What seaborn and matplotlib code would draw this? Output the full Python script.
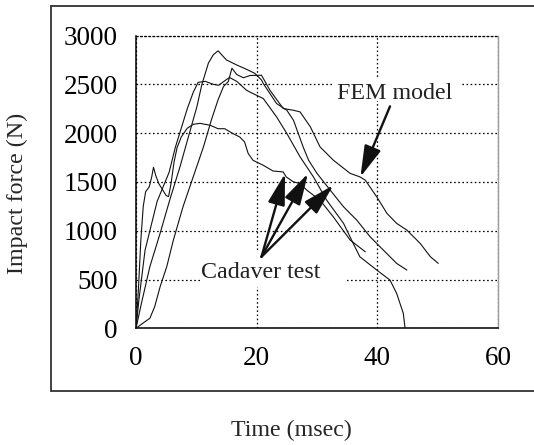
import matplotlib
matplotlib.use("Agg")
import matplotlib.pyplot as plt
import seaborn as sns
import pandas as pd
from matplotlib.patches import Rectangle
from matplotlib.lines import Line2D

# ---------------- data ----------------
# Cadaver curve 1: early spike, peak ~2100
c1_time = [0, 0.4, 0.8, 1.2, 1.6, 2.2, 2.6, 2.9, 3.3, 3.8, 4.4, 5.0, 5.4, 5.8, 6.3, 6.8, 7.5, 8.5,
           9.5, 10.6, 12.3, 13.6, 14.7, 16.1, 17.2, 18.0, 18.6, 19.4, 21.1, 22.7, 24.4, 24.9, 26.1,
           27.2, 28.3, 30.5, 32.7, 35.5, 38.0]
c1_force = [0, 400, 900, 1250, 1400, 1450, 1550, 1650, 1560, 1480, 1420, 1360, 1350, 1480, 1700,
            1850, 1960, 2050, 2090, 2100, 2080, 2045, 2045, 1994, 1960, 1909, 1790, 1721, 1670, 1612,
            1602, 1551, 1500, 1483, 1416, 1313, 1142, 904, 784]

# Cadaver curve 2: plateau ~2500, falls to zero at ~45 ms
c2_time = [0, 0.5, 1.0, 1.5, 2.5, 3.5, 4.5, 5.5, 6.5, 7.5, 8.5, 9.5, 10.3, 11.5, 12.8, 13.7, 14.8,
           15.5, 16.7, 18.3, 18.9, 21.1, 23.3, 25.0, 27.2, 29.4, 31.6, 34.4, 36.0, 37.1, 39.9, 42.1,
           43.2, 44.3, 44.6]
c2_force = [0, 300, 550, 800, 1050, 1300, 1450, 1600, 1850, 2050, 2250, 2420, 2520, 2530, 2500,
            2490, 2540, 2570, 2530, 2440, 2420, 2354, 2166, 1996, 1756, 1552, 1313, 1075, 870, 733,
            597, 494, 358, 154, 0]

# Cadaver curve 3: highest peak ~2850
c3_time = [0, 0.9, 2.3, 4.0, 5.6, 7.3, 8.7, 10.1, 10.9, 12.0, 12.8, 13.6, 15.0, 16.7, 18.3, 19.7,
           20.8, 21.1, 23.3, 25.0, 26.1, 27.7, 28.6, 30.0, 32.2, 34.4, 36.6, 38.8, 41.0, 43.2, 44.9]
c3_force = [0, 256, 632, 974, 1316, 1657, 1965, 2272, 2494, 2717, 2802, 2843, 2749, 2698, 2654,
            2612, 2544, 2507, 2303, 2234, 2132, 1859, 1723, 1587, 1415, 1245, 1108, 938, 801, 665,
            597]

# FEM model curve
fem_time = [0, 1.5, 2.3, 3.1, 4.0, 5.1, 6.2, 7.8, 9.5, 11.2, 12.5, 13.6, 14.5, 15.3, 15.9, 16.7,
            17.8, 18.9, 20.8, 22.2, 24.4, 26.1, 27.2, 28.9, 30.5, 32.7, 35.5, 37.1, 38.0, 39.9,
            41.6, 43.2, 44.9, 47.1, 48.8, 50.1]
fem_force = [0, 68, 103, 222, 427, 632, 905, 1247, 1555, 1862, 2136, 2341, 2477, 2528, 2665, 2600,
             2567, 2590, 2593, 2439, 2252, 2234, 2217, 2064, 1859, 1723, 1587, 1552, 1518, 1347,
             1177, 1075, 1006, 870, 733, 665]

x_ticks = [0, 20, 40, 60]
y_ticks = [0, 500, 1000, 1500, 2000, 2500, 3000]
x_label = "Time (msec)"
y_label = "Impact force (N)"
fem_label = "FEM model"
cadaver_label = "Cadaver test"
fem_arrow = ((42.1, 2274), (37.2, 1551))
cadaver_origin = (20.8, 733)
cadaver_tips = [(24.7, 1585), (28.5, 1585), (32.7, 1466)]

# ---------------- figure ----------------
sns.set_style("white")
plt.rcParams['font.family'] = ['Liberation Serif', 'DejaVu Serif']

W, H = 534, 445
fig = plt.figure(figsize=(W / 100, H / 100), dpi=100)
ax = fig.add_axes([136 / W, 1 - 328.3 / H, 362 / W, 292.8 / H])

frames = []
for name, t, f in [("c1", c1_time, c1_force), ("c2", c2_time, c2_force),
                   ("c3", c3_time, c3_force), ("fem", fem_time, fem_force)]:
    frames.append(pd.DataFrame({"t": t, "F": f, "curve": name}))
df = pd.concat(frames, ignore_index=True)

sns.lineplot(data=df, x="t", y="F", units="curve", estimator=None, sort=False,
             color="#111111", linewidth=0.8, ax=ax, zorder=3)

ax.set_xlim(0, 60)
ax.set_ylim(0, 3000)
ax.set_xticks(x_ticks)
ax.set_yticks(y_ticks)
ax.set_xlabel("")
ax.set_ylabel("")
ax.tick_params(axis="both", length=0, labelsize=19.5, pad=13, colors="black")

ax.set_axisbelow(True)
ax.grid(True, color="black", linestyle=(0, (1.3, 2.0)), linewidth=0.9)

for s in ["left", "bottom"]:
    ax.spines[s].set_color("black")
    ax.spines[s].set_linewidth(1.1)
ax.spines["right"].set_color("#9a9a9a")
ax.spines["right"].set_linewidth(1.0)
ax.spines["top"].set_color("black")
ax.spines["top"].set_linewidth(0.9)
ax.spines["top"].set_linestyle((0, (1.3, 2.0)))

# white boxes behind labels (they interrupt grid lines)
ax.add_patch(Rectangle((10.6, 420), 24.4, 380, facecolor="white", edgecolor="none", zorder=1))
ax.add_patch(Rectangle((32.7, 2330), 21.4, 240, facecolor="white", edgecolor="none", zorder=1))

ax.text(42.9, 2354, fem_label, ha="center", va="baseline", fontsize=17.3, zorder=4, color="#222222")
ax.text(20.7, 512, cadaver_label, ha="center", va="baseline", fontsize=17.3, zorder=4, color="#222222")

arrow_props = dict(arrowstyle="-|>,head_length=1.2,head_width=0.33", lw=1.7, color="#111111",
                   mutation_scale=16, shrinkA=0, shrinkB=0)
ax.annotate("", xy=fem_arrow[1], xytext=fem_arrow[0], arrowprops=arrow_props, zorder=5)
for tip in cadaver_tips:
    ax.annotate("", xy=tip, xytext=cadaver_origin, arrowprops=arrow_props, zorder=5)

# axis titles
fig.text(17.5 / W, 1 - 193.5 / H, y_label, rotation=90, ha="center", va="center", fontsize=17.3)
fig.text(291.5 / W, 1 - 430 / H, x_label, ha="center", va="center", fontsize=17.3)

# outer frame
fc = "#333333"
fig.add_artist(Line2D([51 / W, 1.0], [1 - 6 / H, 1 - 6 / H], transform=fig.transFigure, color=fc, lw=1.3))
fig.add_artist(Line2D([51 / W, 1.0], [1 - 391 / H, 1 - 391 / H], transform=fig.transFigure, color=fc, lw=1.3))
fig.add_artist(Line2D([51 / W, 51 / W], [1 - 6 / H, 1 - 391 / H], transform=fig.transFigure, color=fc, lw=1.3))

fig.savefig("out.png", dpi=100)
